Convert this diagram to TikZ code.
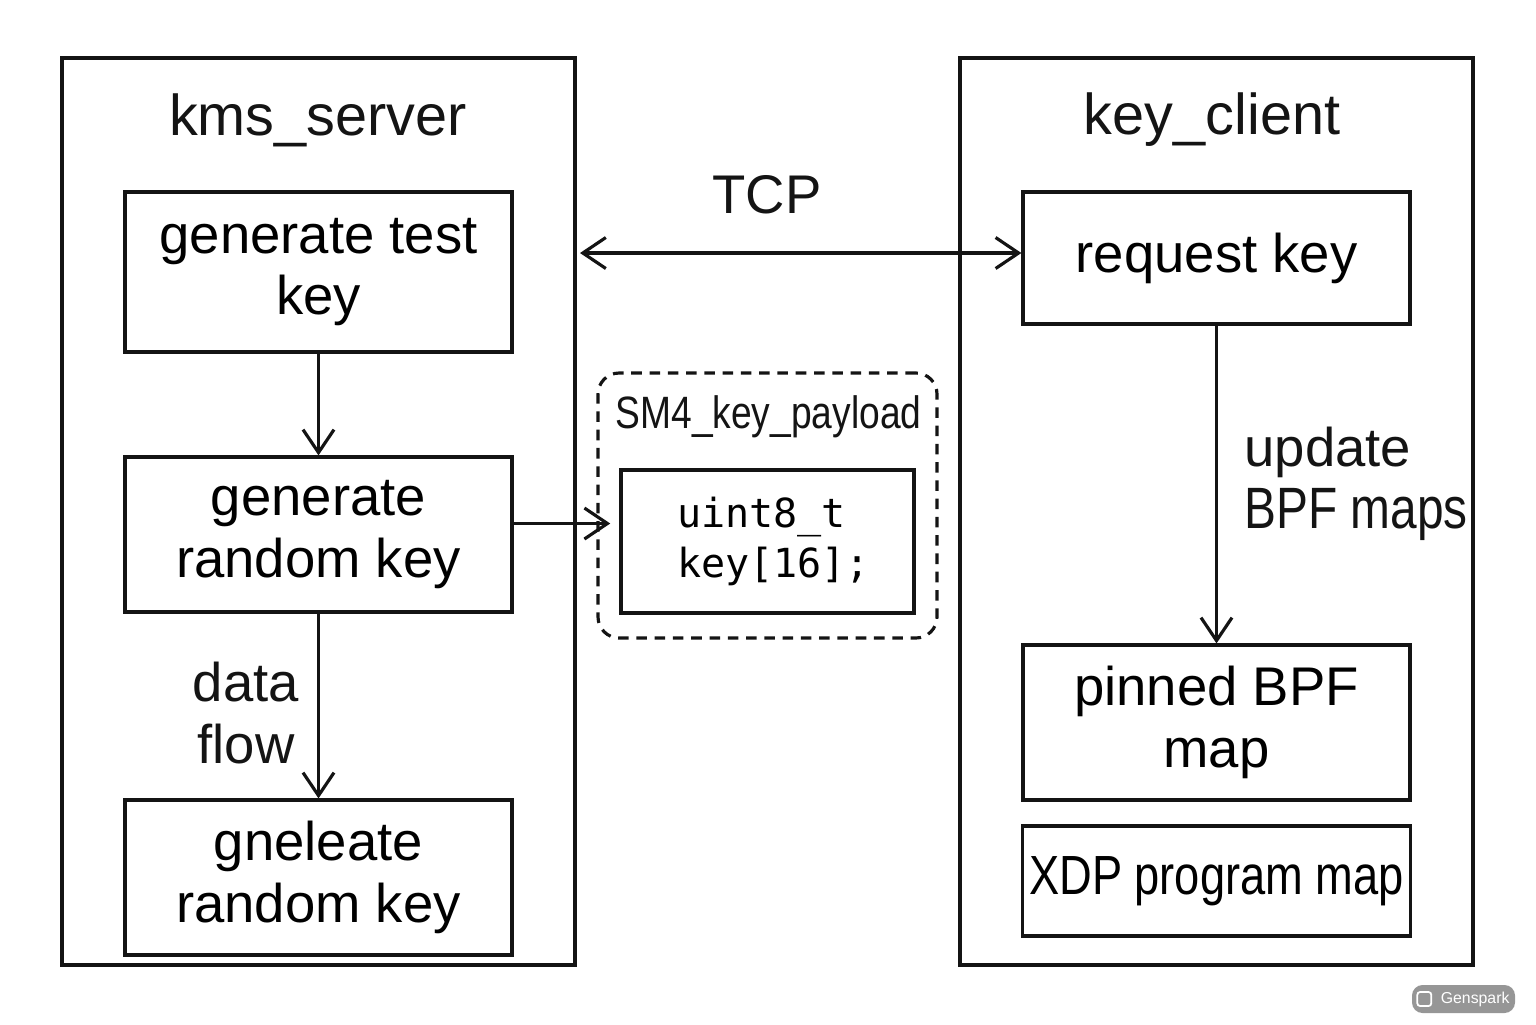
\documentclass[tikz,border=0pt]{standalone}
\usepackage{fontspec}
\setmainfont{Liberation Sans}
\setmonofont{DejaVu Sans Mono}
\newfontfamily\narrowfont[FakeStretch=0.82]{Liberation Sans}
\usetikzlibrary{arrows.meta,positioning,calc}
\definecolor{inkblk}{RGB}{20,20,20}
\definecolor{wmgray}{RGB}{150,150,150}
\newcommand{\mainsz}{\fontsize{15.5}{17.5}\selectfont}
\newcommand{\titlesz}{\fontsize{16.4}{19}\selectfont}
\tikzset{
  outerbox/.style={draw=inkblk, line width=0.9pt, minimum width=5.13cm, minimum height=9.07cm},
  stepbox/.style={draw=inkblk, line width=0.9pt, minimum width=3.87cm, align=center,
                  font=\mainsz, inner sep=2pt},
  ttl/.style={font=\titlesz, text=inkblk},
  lbl/.style={font=\mainsz, text=inkblk, align=center},
  paybox/.style={draw=inkblk, line width=0.9pt, dash pattern=on 3pt off 2.2pt,
                 rounded corners=6pt, minimum width=3.39cm, minimum height=2.65cm},
  codebox/.style={draw=inkblk, line width=1pt, minimum width=2.93cm, minimum height=1.43cm,
                  align=left, font=\ttfamily\fontsize{11.4}{14.2}\selectfont},
  flowarr/.style={-{Straight Barb[length=2.3mm, width=3.1mm, line width=0.9pt]}, inkblk, line width=0.9pt},
  dblarr/.style={{Straight Barb[length=2.3mm, width=3.1mm, line width=0.9pt]}-{Straight Barb[length=2.3mm, width=3.1mm, line width=0.9pt]},
                 inkblk, line width=0.9pt},
}

\begin{document}
\begin{tikzpicture}
    \useasboundingbox (0,0) rectangle (15.36,-10.24);
    % outer components
    \node[outerbox] (server) at (3.185,-5.115) {};
    \node[outerbox] (client) at (12.165,-5.115) {};
    \node[ttl] (srvtitle) at (3.18,-1.20) {kms\_server};
    \node[ttl] (clititle) at (12.12,-1.20) {key\_client};
    % kms_server steps
    \node[stepbox, minimum height=1.60cm] (gentest) at (3.185,-2.72) {generate test\\key};
    \node[stepbox, minimum height=1.55cm] (genrand) at (3.185,-5.345) {generate\\random key};
    \node[stepbox, minimum height=1.55cm] (gnel) at (3.185,-8.775) {gneleate\\random key};
    \draw[flowarr] (gentest.south) -- (genrand.north);
    \draw[flowarr] (genrand.south) -- (gnel.north);
    \node[lbl] (dflow) at (2.46,-7.13) {data\\flow};
    % payload
    \node[paybox] (payload) at (7.675,-5.055) {};
    \node[font=\narrowfont\fontsize{12.9}{14}\selectfont, text=inkblk] (paytitle) at (7.685,-4.17) {SM4\_key\_payload};
    \node[codebox] (code) at (7.675,-5.415) {\hspace*{1.2mm}uint8\_t\\\hspace*{1.2mm}key[16];};
    \draw[flowarr, shorten >=0.9mm] ([yshift=1.1mm]genrand.east) -- ([yshift=1.1mm]genrand.east -| code.west);
    % key_client steps
    \node[stepbox, minimum height=1.32cm] (reqkey) at (12.165,-2.58) {request key};
    \node[stepbox, minimum height=1.55cm] (pinned) at (12.165,-7.225) {pinned BPF\\map};
    \node[stepbox, minimum height=1.10cm, font=\narrowfont\fontsize{15.7}{17.5}\selectfont] (xdp) at (12.165,-8.81) {XDP program map};
    \draw[flowarr] (reqkey.south) -- (pinned.north);
    \node[lbl, align=left, anchor=west] (upd) at (12.32,-4.84)
      {update\\{\narrowfont\fontsize{16.6}{17.5}\selectfont BPF maps}};
    % TCP link
    \coordinate (tcpL) at (5.80,-2.53);
    \draw[dblarr] (tcpL) -- (reqkey.west |- tcpL);
    \node[lbl] (tcp) at (7.67,-1.95) {TCP};
    % watermark
    \node[fill=wmgray, rounded corners=3pt, minimum width=1.03cm, minimum height=0.28cm,
          inner sep=0pt] (wm) at (14.635,-9.99) {};
    \node[draw=white, line width=0.5pt, rounded corners=0.8pt, minimum size=0.14cm, inner sep=0pt]
          (wmicon) at ([xshift=1.3mm]wm.west) {};
    \node[font=\fontsize{4.5}{5}\selectfont, text=white, anchor=west, inner sep=0pt]
          (wmtext) at ([xshift=0.8mm]wmicon.east) {Genspark};
\end{tikzpicture}
\end{document}
